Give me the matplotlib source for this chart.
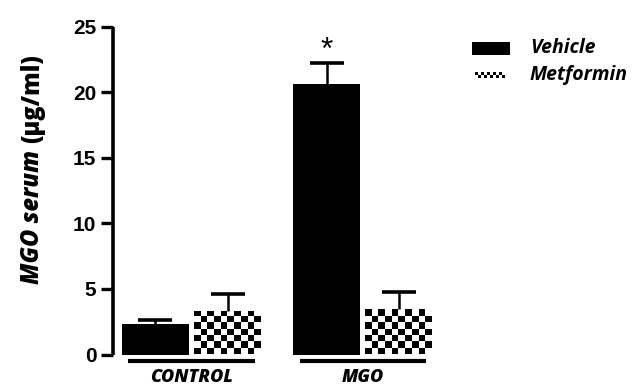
import numpy as np
import matplotlib
matplotlib.use("Agg")
import matplotlib.pyplot as plt
from matplotlib.patches import Rectangle
from matplotlib.lines import Line2D

groups = ["CONTROL", "MGO"]
series = ["Vehicle", "Metformin"]
vehicle = [2.3, 20.6]
vehicle_err = [0.33, 1.65]
metformin = [3.34, 3.47]
metformin_err = [1.27, 1.3]
yticks = [0, 5, 10, 15, 20, 25]

HUM = "Open Sans"
ARIAL = "Liberation Sans"
WT = 800

fig = plt.figure(figsize=(6.4, 3.88), dpi=100)
ax = fig.add_axes([113/640, 1-354.5/388, 327/640, (354.5-26.7)/388])

group_centers = np.array([0.0, 2.38])
w = 0.93
xv = group_centers - 0.5
xm = group_centers + 0.5

bv = ax.bar(xv, vehicle, width=w, color="black", edgecolor="black", linewidth=0, zorder=2)
bm = ax.bar(xm, metformin, width=w, color="white", edgecolor="none", linewidth=0, zorder=2)

# checkerboard fill for the Metformin bars
cy = 0.48
for rect in bm:
    x0 = rect.get_x(); x1 = x0 + rect.get_width(); h = rect.get_height()
    nr = int(np.ceil(h / cy)); nc = 10
    ii, jj = np.indices((nr, nc))
    img = ((ii + jj) % 2 == 0).astype(float)
    im = ax.imshow(img, cmap="gray_r", extent=(x0, x1, 0, nr * cy), origin="lower",
                   interpolation="nearest", aspect="auto", vmin=0, vmax=1, zorder=2.5)
    im.set_clip_path(rect)

zero = [0, 0]
for xs, vals, errs in [(xv, vehicle, vehicle_err), (xm, metformin, metformin_err)]:
    eb = ax.errorbar(xs, vals, yerr=[zero, errs], fmt="none", ecolor="black",
                     elinewidth=1.8, capsize=12, capthick=2.6, zorder=3)
    caps = eb[1]
    if len(caps) == 2:
        caps[0].set_visible(False)

# significance marker
ax.text(xv[1], vehicle[1] + vehicle_err[1] - 0.25, "*", ha="center", va="bottom",
        fontsize=23, family=ARIAL, color="black")

# group lines and labels
for gc, name in zip(group_centers, groups):
    ax.add_line(Line2D([gc - 0.88, gc + 0.88], [-0.46, -0.46], color="black",
                       linewidth=3, solid_capstyle="butt", clip_on=False))
    ax.text(gc, -1.72, name, ha="center", va="center", fontsize=13,
            family=HUM, fontweight=WT, style="italic", clip_on=False)

ax.set_xlim(-1.09, 3.45)
ax.set_ylim(0, 25)
ax.set_yticks(yticks)
ax.set_yticklabels([str(t) for t in yticks], family=ARIAL, fontweight="bold", fontsize=15)
ax.set_xticks([])
for s in ["top", "right", "bottom"]:
    ax.spines[s].set_visible(False)
ax.spines["left"].set_linewidth(2.6)
ax.spines["left"].set_capstyle("butt")
ax.tick_params(axis="y", length=9, width=2.4, pad=3, direction="out")
ax.patch.set_alpha(0)

# y label in two styles
yc = 1 - 150/388
fig.text(33/640, yc, "MGO serum", rotation=90, rotation_mode="anchor", ha="right",
         va="center", fontsize=17, family=HUM, fontweight=WT, style="italic")
fig.text(33/640, yc + 7/388, "(μg/ml)", rotation=90, rotation_mode="anchor", ha="left",
         va="center", fontsize=17, family=HUM, fontweight=WT)

# legend
fig.add_artist(Rectangle((472/640, 1-55/388), 38/640, 13/388, transform=fig.transFigure,
                         facecolor="black", edgecolor="none"))
fig.text(530/640, 1-48/388, series[0], ha="left", va="center", fontsize=14,
         family=HUM, fontweight="bold", style="italic")
lax = fig.add_axes([475/640, 1-78/388, 30/640, 6/388])
ii, jj = np.indices((2, 10))
lax.imshow(((ii + jj) % 2 == 0).astype(float), cmap="gray_r", interpolation="nearest",
           aspect="auto", vmin=0, vmax=1)
lax.axis("off")
fig.text(530/640, 1-75/388, series[1], ha="left", va="center", fontsize=14,
         family=HUM, fontweight="bold", style="italic")

fig.savefig("out.png", dpi=100, facecolor="white")
